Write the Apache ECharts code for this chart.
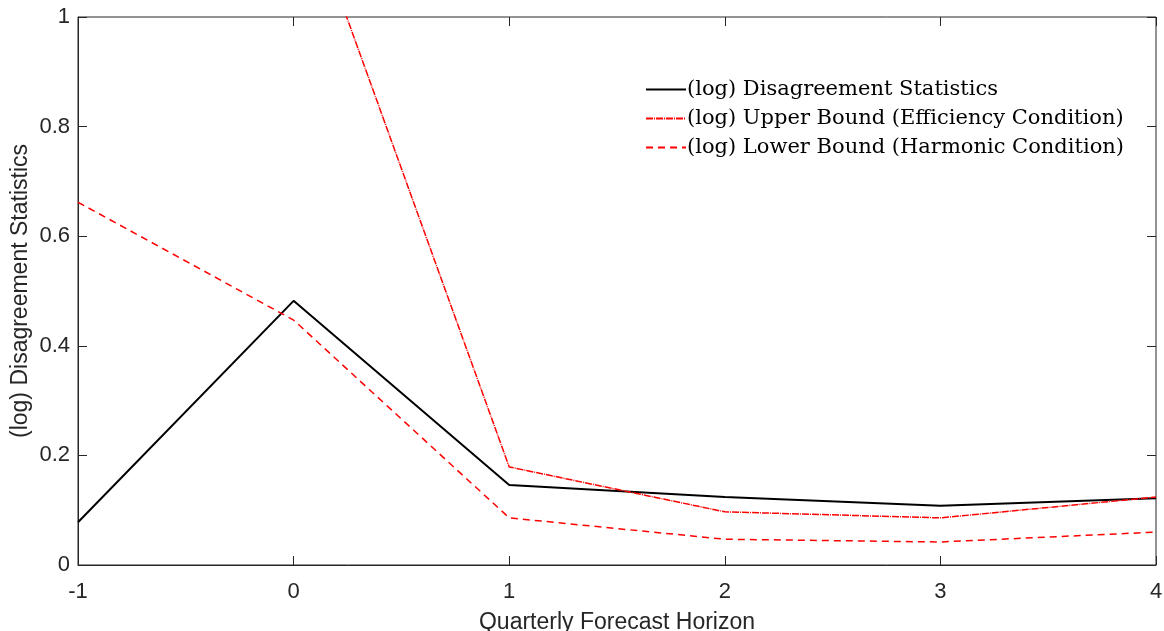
<!DOCTYPE html>
<html>
<head>
<meta charset="utf-8">
<script src="https://cdn.jsdelivr.net/npm/echarts@6/dist/echarts.min.js"></script>
<style>
html, body { margin: 0; padding: 0; background: #fff; }
#myChart { width: 1164px; height: 631px; }
</style>
</head>
<body>
<div id="myChart"></div>
<script>
var horizons = [-1, 0, 1, 2, 3, 4];
var disagreement = [0.078, 0.482, 0.146, 0.124, 0.108, 0.122];
var upperBound = [1.9, 1.268, 0.179, 0.097, 0.086, 0.124];
var lowerBound = [0.662, 0.447, 0.086, 0.047, 0.042, 0.060];
var yTicks = [0, 0.2, 0.4, 0.6, 0.8, 1];

var names = [
	"(log) Disagreement Statistics",
	"(log) Upper Bound (Efficiency Condition)",
	"(log) Lower Bound (Harmonic Condition)"
];

function pairs(values) {
	var out = [];
	for (var i = 0; i < horizons.length; i++) {
		out.push([horizons[i], values[i]]);
	}
	return out;
}

var axisColor = "#262626";
var labelFont = "Liberation Sans";
var labelSize = 22;
var nameSize = 23;

var myChart = echarts.init(document.getElementById("myChart"));

var option = {
	animation : false,
	backgroundColor : "#fff",
	grid : {
		left : 78,
		right : 8,
		top : 17,
		bottom : 66,
		outerBoundsMode : "none",
		containLabel : false,
		show : true,
		borderColor : axisColor,
		borderWidth : 1
	},
	legend : {
		show : true,
		left : 640,
		top : 74,
		orient : "vertical",
		itemWidth : 40,
		itemHeight : 14,
		itemGap : 8,
		itemStyle : { color : "transparent", borderWidth : 0 },
		textStyle : {
			fontFamily : "DejaVu Serif",
			fontSize : 21,
			color : "#000",
			padding : [0, 0, 0, -4]
		},
		data : names
	},
	xAxis : [ {
		type : "value",
		min : -1,
		max : 4,
		interval : 1,
		name : "Quarterly Forecast Horizon",
		nameLocation : "middle",
		nameGap : 46,
		nameMoveOverlap : false,
		nameTextStyle : { fontFamily : labelFont, fontSize : nameSize, color : axisColor },
		axisLine : { onZero : false, lineStyle : { color : axisColor } },
		axisTick : { inside : true, length : 9, lineStyle : { color : axisColor } },
		axisLabel : { fontFamily : labelFont, fontSize : labelSize, color : axisColor, margin : 16 },
		splitLine : { show : false }
	}, {
		type : "value",
		position : "top",
		min : -1,
		max : 4,
		interval : 1,
		axisLine : { show : false, onZero : false },
		axisTick : { inside : true, length : 9, lineStyle : { color : axisColor } },
		axisLabel : { show : false },
		splitLine : { show : false }
	} ],
	yAxis : [ {
		type : "value",
		min : yTicks[0],
		max : yTicks[yTicks.length - 1],
		interval : 0.2,
		name : "(log) Disagreement Statistics",
		nameLocation : "middle",
		nameGap : 46,
		nameMoveOverlap : false,
		nameTextStyle : { fontFamily : labelFont, fontSize : nameSize, color : axisColor },
		axisLine : { show : true, onZero : false, lineStyle : { color : axisColor } },
		axisTick : { show : true, inside : true, length : 9, lineStyle : { color : axisColor } },
		axisLabel : { fontFamily : labelFont, fontSize : labelSize, color : axisColor, margin : 8 },
		splitLine : { show : false }
	}, {
		type : "value",
		position : "right",
		min : 0,
		max : 1,
		interval : 0.2,
		axisLine : { show : false, onZero : false },
		axisTick : { show : true, inside : true, length : 9, lineStyle : { color : axisColor } },
		axisLabel : { show : false },
		splitLine : { show : false }
	} ],
	series : [ {
		name : names[0],
		type : "line",
		data : pairs(disagreement),
		symbol : "none",
		clip : true,
		lineStyle : { color : "#000", width : 2 },
		itemStyle : { color : "#000" }
	}, {
		name : names[1],
		type : "line",
		data : pairs(upperBound),
		symbol : "none",
		clip : true,
		lineStyle : { color : "#ff0000", width : 1.5, type : [7, 1, 1, 1] },
		itemStyle : { color : "#ff0000" }
	}, {
		name : names[2],
		type : "line",
		data : pairs(lowerBound),
		symbol : "none",
		clip : true,
		lineStyle : { color : "#ff0000", width : 1.5, type : [7, 5] },
		itemStyle : { color : "#ff0000" }
	} ]
};

myChart.setOption(option);
</script>
</body>
</html>
